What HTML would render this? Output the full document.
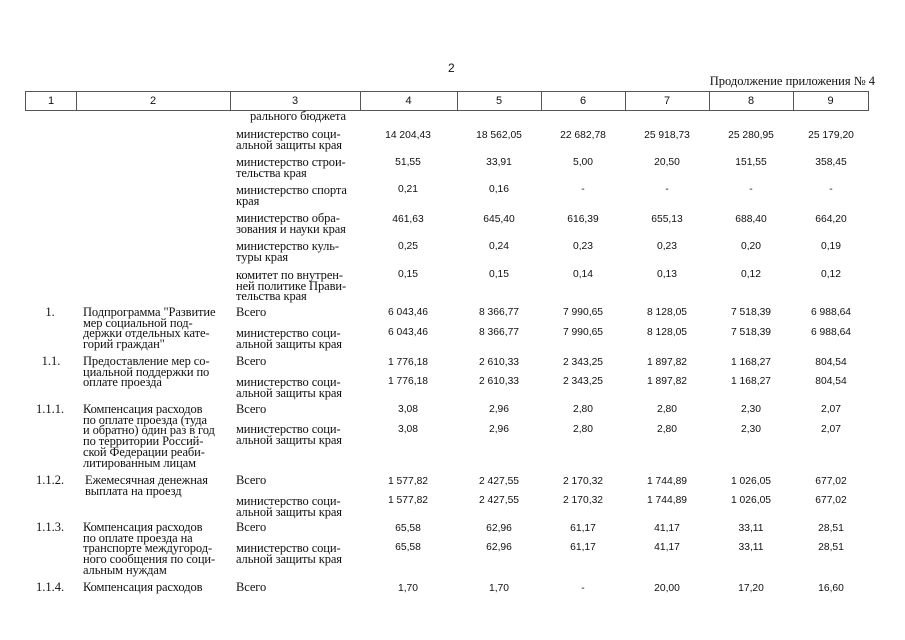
<!DOCTYPE html>
<html><head><meta charset="utf-8"><style>
body{margin:0;background:#fff;width:905px;height:640px;position:relative;overflow:hidden;color:#111}
.t{position:absolute;font-family:"Liberation Serif",serif;font-size:12.5px;line-height:10.7px;white-space:pre;letter-spacing:-0.1px}
.r{position:absolute;left:0;width:905px;height:12px;font-family:"Liberation Sans",sans-serif;font-size:10.3px;line-height:12px}
.r span{position:absolute;width:90px;margin-left:-45px;text-align:center}
.r span:nth-child(1){left:408px}.r span:nth-child(2){left:499px}.r span:nth-child(3){left:583px}
.r span:nth-child(4){left:667px}.r span:nth-child(5){left:751px}.r span:nth-child(6){left:831px}
.h{position:absolute;top:91px;height:20px;border:1px solid #555;border-left:none;box-sizing:border-box;font-family:"Liberation Sans",sans-serif;font-size:11px;line-height:19px;text-align:center}
.c1{position:absolute;width:50px;text-align:center;font-family:"Liberation Serif",serif;font-size:12.5px;line-height:10.7px}
</style></head><body>
<div style="position:absolute;left:448px;top:61px;font:12px 'Liberation Sans',sans-serif">2</div>
<div style="position:absolute;right:30px;top:74px;font:12.5px 'Liberation Serif',serif">Продолжение приложения № 4</div>
<div class="h" style="left:25px;width:52px;border-left:1px solid #555">1</div>
<div class="h" style="left:76px;width:155px">2</div>
<div class="h" style="left:230px;width:131px">3</div>
<div class="h" style="left:360px;width:98px">4</div>
<div class="h" style="left:457px;width:85px">5</div>
<div class="h" style="left:541px;width:85px">6</div>
<div class="h" style="left:625px;width:85px">7</div>
<div class="h" style="left:709px;width:85px">8</div>
<div class="h" style="left:793px;width:76px">9</div>

<div class="t" style="left:250px;top:111px">рального бюджета</div>
<div class="t" style="left:236px;top:129px">министерство соци-
альной защиты края</div>
<div class="t" style="left:236px;top:157px">министерство строи-
тельства края</div>
<div class="t" style="left:236px;top:185px">министерство спорта
края</div>
<div class="t" style="left:236px;top:213px">министерство обра-
зования и науки края</div>
<div class="t" style="left:236px;top:241px">министерство куль-
туры края</div>
<div class="t" style="left:236px;top:270px">комитет по внутрен-
ней политике Прави-
тельства края</div>

<div class="r" style="top:130px"><span>14 204,43</span><span>18 562,05</span><span>22 682,78</span><span>25 918,73</span><span>25 280,95</span><span>25 179,20</span></div>
<div class="r" style="top:157px"><span>51,55</span><span>33,91</span><span>5,00</span><span>20,50</span><span>151,55</span><span>358,45</span></div>
<div class="r" style="top:184px"><span>0,21</span><span>0,16</span><span>-</span><span>-</span><span>-</span><span>-</span></div>
<div class="r" style="top:214px"><span>461,63</span><span>645,40</span><span>616,39</span><span>655,13</span><span>688,40</span><span>664,20</span></div>
<div class="r" style="top:241px"><span>0,25</span><span>0,24</span><span>0,23</span><span>0,23</span><span>0,20</span><span>0,19</span></div>
<div class="r" style="top:269px"><span>0,15</span><span>0,15</span><span>0,14</span><span>0,13</span><span>0,12</span><span>0,12</span></div>

<div class="c1" style="left:25px;top:307px">1.</div>
<div class="t" style="left:83px;top:307px">Подпрограмма "Развитие
мер социальной под-
держки отдельных кате-
горий граждан"</div>
<div class="t" style="left:236px;top:307px">Всего</div>
<div class="t" style="left:236px;top:328px">министерство соци-
альной защиты края</div>
<div class="r" style="top:307px"><span>6 043,46</span><span>8 366,77</span><span>7 990,65</span><span>8 128,05</span><span>7 518,39</span><span>6 988,64</span></div>
<div class="r" style="top:327px"><span>6 043,46</span><span>8 366,77</span><span>7 990,65</span><span>8 128,05</span><span>7 518,39</span><span>6 988,64</span></div>

<div class="c1" style="left:26px;top:356px">1.1.</div>
<div class="t" style="left:83px;top:356px">Предоставление мер со-
циальной поддержки по
оплате проезда</div>
<div class="t" style="left:236px;top:356px">Всего</div>
<div class="t" style="left:236px;top:377px">министерство соци-
альной защиты края</div>
<div class="r" style="top:357px"><span>1 776,18</span><span>2 610,33</span><span>2 343,25</span><span>1 897,82</span><span>1 168,27</span><span>804,54</span></div>
<div class="r" style="top:376px"><span>1 776,18</span><span>2 610,33</span><span>2 343,25</span><span>1 897,82</span><span>1 168,27</span><span>804,54</span></div>

<div class="c1" style="left:25px;top:404px">1.1.1.</div>
<div class="t" style="left:83px;top:404px">Компенсация расходов
по оплате проезда (туда
и обратно) один раз в год
по территории Россий-
ской Федерации реаби-
литированным лицам</div>
<div class="t" style="left:236px;top:404px">Всего</div>
<div class="t" style="left:236px;top:424px">министерство соци-
альной защиты края</div>
<div class="r" style="top:404px"><span>3,08</span><span>2,96</span><span>2,80</span><span>2,80</span><span>2,30</span><span>2,07</span></div>
<div class="r" style="top:424px"><span>3,08</span><span>2,96</span><span>2,80</span><span>2,80</span><span>2,30</span><span>2,07</span></div>

<div class="c1" style="left:25px;top:475px">1.1.2.</div>
<div class="t" style="left:85px;top:475px">Ежемесячная денежная
выплата на проезд</div>
<div class="t" style="left:236px;top:475px">Всего</div>
<div class="t" style="left:236px;top:496px">министерство соци-
альной защиты края</div>
<div class="r" style="top:476px"><span>1 577,82</span><span>2 427,55</span><span>2 170,32</span><span>1 744,89</span><span>1 026,05</span><span>677,02</span></div>
<div class="r" style="top:495px"><span>1 577,82</span><span>2 427,55</span><span>2 170,32</span><span>1 744,89</span><span>1 026,05</span><span>677,02</span></div>

<div class="c1" style="left:25px;top:522px">1.1.3.</div>
<div class="t" style="left:83px;top:522px">Компенсация расходов
по оплате проезда на
транспорте междугород-
ного сообщения по соци-
альным нуждам</div>
<div class="t" style="left:236px;top:522px">Всего</div>
<div class="t" style="left:236px;top:543px">министерство соци-
альной защиты края</div>
<div class="r" style="top:523px"><span>65,58</span><span>62,96</span><span>61,17</span><span>41,17</span><span>33,11</span><span>28,51</span></div>
<div class="r" style="top:542px"><span>65,58</span><span>62,96</span><span>61,17</span><span>41,17</span><span>33,11</span><span>28,51</span></div>

<div class="c1" style="left:25px;top:582px">1.1.4.</div>
<div class="t" style="left:83px;top:582px">Компенсация расходов</div>
<div class="t" style="left:236px;top:582px">Всего</div>
<div class="r" style="top:583px"><span>1,70</span><span>1,70</span><span>-</span><span>20,00</span><span>17,20</span><span>16,60</span></div>
</body></html>
